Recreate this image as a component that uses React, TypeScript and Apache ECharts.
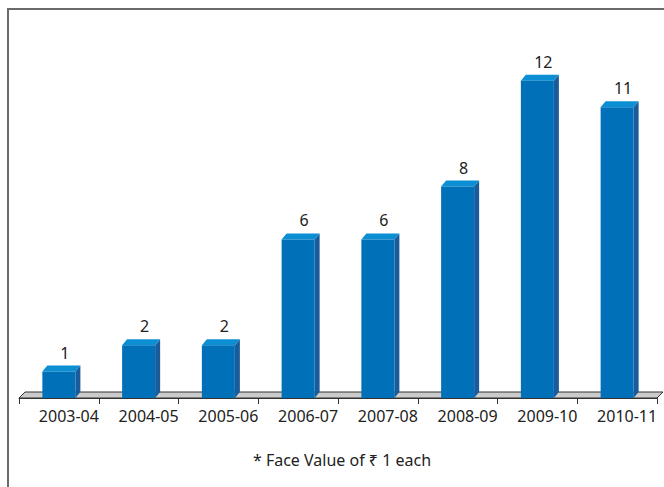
import React, { useEffect, useRef } from "react";
import * as echarts from "echarts";

const categories = ["2003-04", "2004-05", "2005-06", "2006-07", "2007-08", "2008-09", "2009-10", "2010-11"];
const values = [1, 2, 2, 6, 6, 8, 12, 11];
const footnote = "* Face Value of \u20B9 1 each";

const FRONT = "#0071B9";
const TOP = "#0B8ED2";
const SIDE = "#1A5B9B";
const FONT = "Noto Sans";

export default function App() {
  const ref = useRef<HTMLDivElement>(null);
  useEffect(() => {
    if (!ref.current) return;
    const chart = echarts.init(ref.current, null, { renderer: "svg" });
    const dx = 5;
    const dy = 6;
    chart.setOption({
      animation: false,
      grid: { left: 19, right: 7, top: 28, bottom: 89 },
      xAxis: {
        type: "category",
        data: categories,
        z: 5,
        axisLine: { show: true, lineStyle: { color: "#333", width: 1 } },
        axisTick: { show: true, length: 6, lineStyle: { color: "#333" } },
        axisLabel: {
          color: "#222",
          fontFamily: FONT,
          fontSize: 16,
          margin: 10,
          padding: [0, 0, 0, 20],
          interval: 0,
        },
      },
      yAxis: { type: "value", min: 0, max: 14, show: false, splitLine: { show: false } },
      graphic: [
        { type: "line", shape: { x1: 8, y1: 9, x2: 664, y2: 9 }, style: { stroke: "#6a6a6a", lineWidth: 2 } },
        { type: "line", shape: { x1: 8, y1: 8, x2: 8, y2: 487 }, style: { stroke: "#6a6a6a", lineWidth: 2 } },
        {
          type: "text",
          x: 342,
          y: 460,
          style: {
            text: footnote,
            fontFamily: FONT,
            fontSize: 16,
            fill: "#222",
            align: "center",
            verticalAlign: "middle",
          },
        },
      ],
      series: [
        {
          type: "custom",
          z: 1,
          silent: true,
          data: [[0, 0]],
          renderItem: (params: any) => {
            const cs = params.coordSys;
            const b = cs.y + cs.height;
            return {
              type: "polygon",
              shape: {
                points: [
                  [cs.x, b],
                  [cs.x + dx + 1, b - dy],
                  [cs.x + cs.width + dx + 1, b - dy],
                  [cs.x + cs.width, b],
                ],
              },
              style: { fill: "#cbcbcb", stroke: "#333", lineWidth: 1 },
            };
          },
        },
        {
          type: "custom",
          z: 3,
          data: values.map((v, i) => [i, v]),
          encode: { x: 0, y: 1 },
          renderItem: (params: any, api: any) => {
            const idx = api.value(0);
            const val = api.value(1);
            const top = api.coord([idx, val]);
            const base = api.coord([idx, 0]);
            const band = api.size([1, 0])[0];
            const w = band * 0.414;
            const x0 = top[0] - w / 2;
            const x1 = top[0] + w / 2;
            return {
              type: "group",
              children: [
                {
                  type: "polygon",
                  shape: { points: [[x1, top[1]], [x1 + dx, top[1] - dy], [x1 + dx, base[1] - dy], [x1, base[1]]] },
                  style: { fill: SIDE },
                },
                {
                  type: "polygon",
                  shape: { points: [[x0, top[1]], [x0 + dx, top[1] - dy], [x1 + dx, top[1] - dy], [x1, top[1]]] },
                  style: { fill: TOP },
                },
                {
                  type: "rect",
                  shape: { x: x0, y: top[1], width: w, height: base[1] - top[1] },
                  style: { fill: FRONT },
                },
                {
                  type: "text",
                  x: top[0] + 6,
                  y: top[1] - 19,
                  style: {
                    text: String(val),
                    fontFamily: FONT,
                    fontSize: 16,
                    fill: "#222",
                    align: "center",
                    verticalAlign: "middle",
                  },
                },
              ],
            };
          },
        },
      ],
    });
    return () => chart.dispose();
  }, []);
  return (
    <div style={{ position: "absolute", left: 0, top: 0, width: 664, height: 487, background: "#fff" }}>
      <div ref={ref} style={{ width: 664, height: 487 }} />
    </div>
  );
}
